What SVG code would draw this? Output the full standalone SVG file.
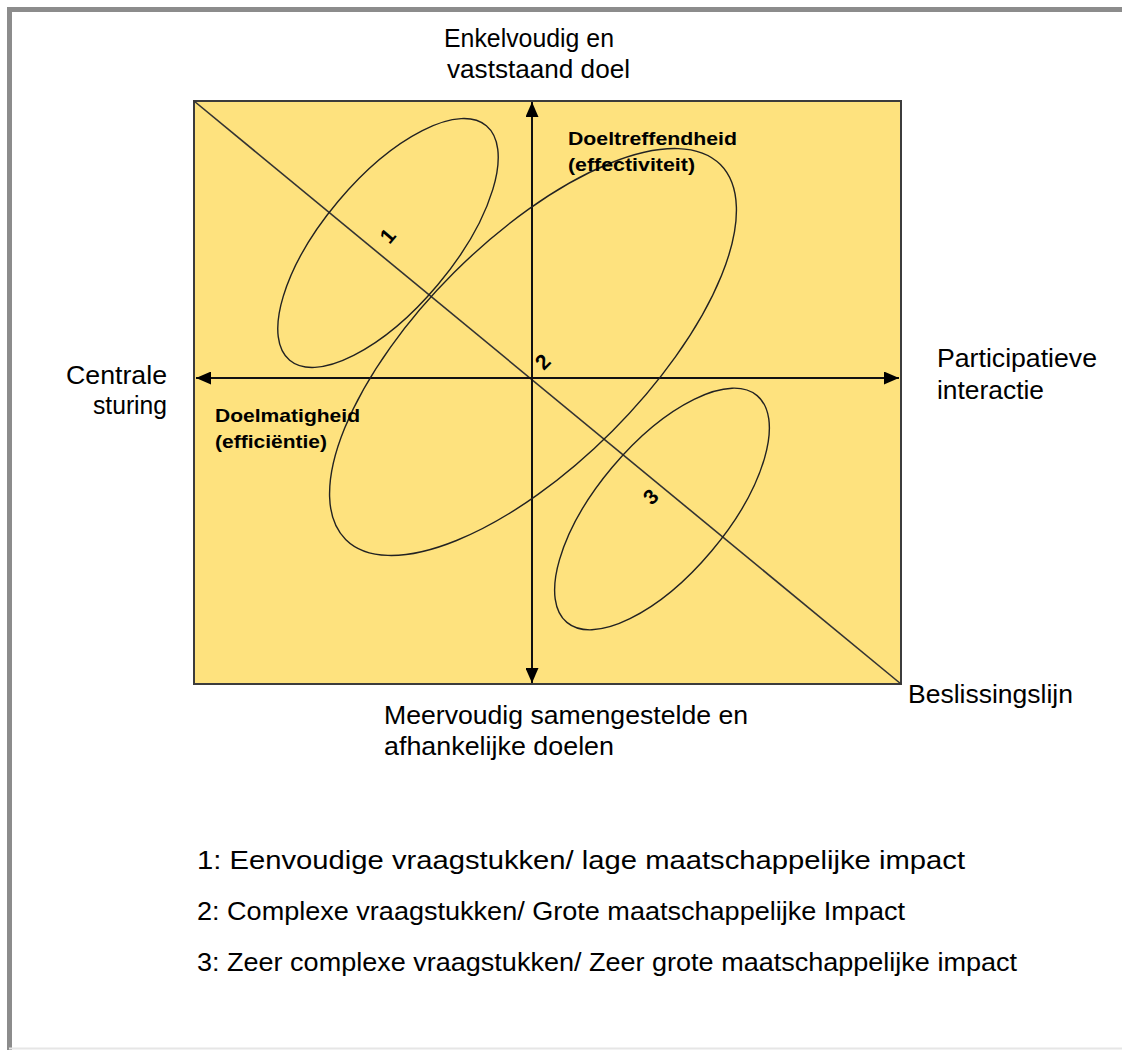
<svg xmlns="http://www.w3.org/2000/svg" width="1122" height="1050" viewBox="0 0 1122 1050">
  <style>
    .lbl { font-family: "Liberation Sans", Arial, sans-serif; font-size: 25px; fill: #000; }
    .sub { font-family: "Liberation Sans", Arial, sans-serif; font-size: 19px; font-weight: bold; fill: #000; }
    .num { font-family: "Liberation Sans", Arial, sans-serif; font-size: 21px; font-weight: bold; fill: #000; }
    .axis { stroke: #111; stroke-width: 2; fill: none; }
    .oval { stroke: #222; stroke-width: 1.4; fill: none; }
  </style>
  <defs>
    <marker id="head" viewBox="0 0 15 13" refX="15" refY="6.5" markerWidth="15" markerHeight="13" markerUnits="userSpaceOnUse" orient="auto-start-reverse">
      <path d="M0,0 L15,6.5 L0,13 Z" fill="#000"/>
    </marker>
  </defs>

  <rect width="1122" height="1050" fill="#fff"/>
  <!-- page frame -->
  <path d="M9.5,1050 V9.5 H1122" fill="none" stroke="#8c8c8c" stroke-width="5"/>
  <line x1="9" y1="1048.5" x2="1122" y2="1048.5" stroke="#e6e6e6" stroke-width="2"/>

  <!-- field -->
  <g id="field">
    <rect x="194" y="101" width="707" height="583" fill="#FEE27E" stroke="#3c3c3c" stroke-width="2"/>
  </g>

  <g id="connectors">
    <line id="beslissingslijn-line" x1="194" y1="101" x2="901" y2="684" stroke="#333" stroke-width="1.6"/>
    <line id="h-axis" class="axis" x1="196" y1="378" x2="899" y2="378" marker-start="url(#head)" marker-end="url(#head)"/>
    <line id="v-axis" class="axis" x1="532" y1="102" x2="532" y2="683" marker-start="url(#head)" marker-end="url(#head)"/>
  </g>

  <g id="oval-1">
    <ellipse class="oval" cx="388" cy="243" rx="153" ry="65" transform="rotate(-50 388 243)"/>
    <text class="num" x="388" y="243" text-anchor="middle" transform="rotate(-50 388 236)">1</text>
  </g>
  <g id="oval-2">
    <ellipse class="oval" cx="533" cy="352" rx="265" ry="112" transform="rotate(-45 533 352)"/>
    <text class="num" x="543" y="369" text-anchor="middle" transform="rotate(-45 543 362)">2</text>
  </g>
  <g id="oval-3">
    <ellipse class="oval" cx="662" cy="509" rx="148" ry="65" transform="rotate(-50 662 509)"/>
    <text class="num" x="651" y="504" text-anchor="middle" transform="rotate(-45 651 497)">3</text>
  </g>

  <g id="label-top">
    <text class="lbl" x="444" y="47" textLength="170" lengthAdjust="spacingAndGlyphs">Enkelvoudig en</text>
    <text class="lbl" x="447" y="78" textLength="183" lengthAdjust="spacingAndGlyphs">vaststaand doel</text>
  </g>
  <g id="label-left">
    <text class="lbl" x="66" y="384" textLength="101" lengthAdjust="spacingAndGlyphs">Centrale</text>
    <text class="lbl" x="93" y="414" textLength="74" lengthAdjust="spacingAndGlyphs">sturing</text>
  </g>
  <g id="label-right">
    <text class="lbl" x="937" y="367" textLength="160" lengthAdjust="spacingAndGlyphs">Participatieve</text>
    <text class="lbl" x="937" y="399" textLength="107" lengthAdjust="spacingAndGlyphs">interactie</text>
  </g>
  <g id="label-bottom">
    <text class="lbl" x="384" y="724" textLength="364" lengthAdjust="spacingAndGlyphs">Meervoudig samengestelde en</text>
    <text class="lbl" x="384" y="755" textLength="230" lengthAdjust="spacingAndGlyphs">afhankelijke doelen</text>
  </g>
  <g id="label-beslissingslijn">
    <text class="lbl" x="908" y="703" textLength="165" lengthAdjust="spacingAndGlyphs">Beslissingslijn</text>
  </g>
  <g id="label-doeltreffendheid">
    <text class="sub" x="568" y="145" textLength="169" lengthAdjust="spacingAndGlyphs">Doeltreffendheid</text>
    <text class="sub" x="568" y="171" textLength="127" lengthAdjust="spacingAndGlyphs">(effectiviteit)</text>
  </g>
  <g id="label-doelmatigheid">
    <text class="sub" x="215" y="422" textLength="145" lengthAdjust="spacingAndGlyphs">Doelmatigheid</text>
    <text class="sub" x="215" y="448" textLength="112" lengthAdjust="spacingAndGlyphs">(efficiëntie)</text>
  </g>

  <g id="legend">
    <text class="lbl" x="197" y="869" textLength="768" lengthAdjust="spacingAndGlyphs">1: Eenvoudige vraagstukken/ lage maatschappelijke impact</text>
    <text class="lbl" x="197" y="920" textLength="708" lengthAdjust="spacingAndGlyphs">2: Complexe vraagstukken/ Grote maatschappelijke Impact</text>
    <text class="lbl" x="197" y="971" textLength="820" lengthAdjust="spacingAndGlyphs">3: Zeer complexe vraagstukken/ Zeer grote maatschappelijke impact</text>
  </g>
</svg>
